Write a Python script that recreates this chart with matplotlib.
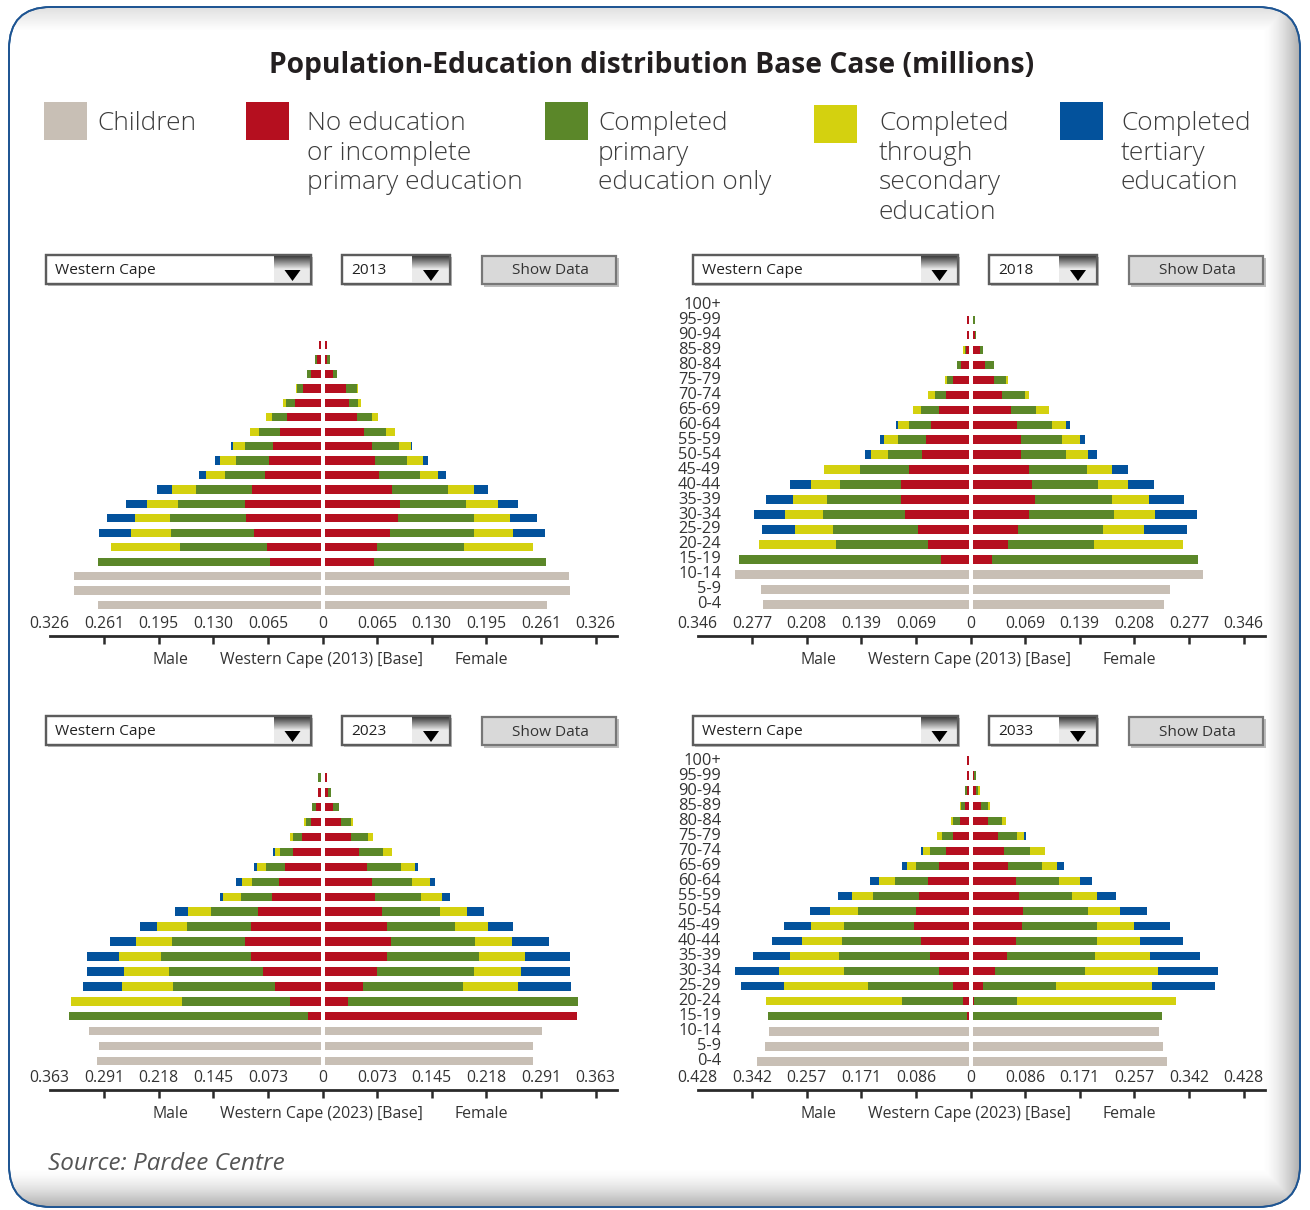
import numpy as np
import matplotlib
matplotlib.use("Agg")
import matplotlib.pyplot as plt
from matplotlib.patches import Rectangle, FancyBboxPatch, Polygon

# ---------------- data ----------------
age_groups = ["0-4", "5-9", "10-14", "15-19", "20-24", "25-29", "30-34", "35-39",
              "40-44", "45-49", "50-54", "55-59", "60-64", "65-69", "70-74",
              "75-79", "80-84", "85-89", "90-94", "95-99", "100+"]
categories = ["Children", "No education\nor incomplete\nprimary education",
              "Completed\nprimary\neducation only",
              "Completed\nthrough\nsecondary\neducation",
              "Completed\ntertiary\neducation"]
colors = ["#C8BFB5", "#B50F1F", "#5B8729", "#D4D10F", "#03529C"]

# children: ages 0-4, 5-9, 10-14 ; education lists: ages 15-19 ... 100+
# ---- 2013 ----
m2013_children = [0.266, 0.294, 0.294]
m2013_noedu = [0.060, 0.064, 0.079, 0.089, 0.090, 0.082, 0.066, 0.062, 0.057, 0.048, 0.040, 0.030, 0.021, 0.011, 0.004, 0.002, 0.0, 0.0]
m2013_prim = [0.206, 0.104, 0.100, 0.091, 0.080, 0.067, 0.048, 0.039, 0.033, 0.026, 0.018, 0.011, 0.007, 0.005, 0.002, 0.0, 0.0, 0.0]
m2013_sec = [0.0, 0.082, 0.047, 0.042, 0.037, 0.028, 0.023, 0.019, 0.014, 0.010, 0.007, 0.004, 0.001, 0.0, 0.0, 0.0, 0.0, 0.0]
m2013_ter = [0.0, 0.0, 0.038, 0.033, 0.025, 0.018, 0.008, 0.006, 0.003, 0.0, 0.0, 0.0, 0.0, 0.0, 0.0, 0.0, 0.0, 0.0]
f2013_children = [0.266, 0.293, 0.292]
f2013_noedu = [0.059, 0.063, 0.078, 0.088, 0.090, 0.081, 0.065, 0.060, 0.057, 0.047, 0.039, 0.029, 0.026, 0.010, 0.003, 0.003, 0.0, 0.0]
f2013_prim = [0.206, 0.104, 0.100, 0.091, 0.079, 0.067, 0.049, 0.039, 0.032, 0.027, 0.018, 0.011, 0.013, 0.005, 0.003, 0.0, 0.0, 0.0]
f2013_sec = [0.0, 0.082, 0.047, 0.042, 0.038, 0.030, 0.022, 0.019, 0.014, 0.010, 0.007, 0.004, 0.001, 0.0, 0.0, 0.0, 0.0, 0.0]
f2013_ter = [0.0, 0.0, 0.038, 0.033, 0.024, 0.017, 0.009, 0.006, 0.002, 0.0, 0.0, 0.0, 0.0, 0.0, 0.0, 0.0, 0.0, 0.0]
# ---- 2018 ----
m2018_children = [0.261, 0.263, 0.296]
m2018_noedu = [0.035, 0.051, 0.064, 0.081, 0.085, 0.085, 0.075, 0.059, 0.054, 0.048, 0.038, 0.029, 0.020, 0.009, 0.003, 0.002, 0.002, 0.0]
m2018_prim = [0.256, 0.117, 0.108, 0.104, 0.094, 0.078, 0.062, 0.043, 0.035, 0.028, 0.022, 0.014, 0.007, 0.006, 0.002, 0.0, 0.0, 0.0]
m2018_sec = [0.0, 0.097, 0.048, 0.047, 0.044, 0.037, 0.046, 0.022, 0.018, 0.013, 0.010, 0.008, 0.003, 0.0, 0.002, 0.0, 0.0, 0.0]
m2018_ter = [0.0, 0.0, 0.042, 0.040, 0.034, 0.026, 0.0, 0.007, 0.005, 0.003, 0.0, 0.0, 0.0, 0.0, 0.0, 0.0, 0.0, 0.0]
f2018_children = [0.243, 0.250, 0.292]
f2018_noedu = [0.025, 0.045, 0.058, 0.072, 0.079, 0.075, 0.072, 0.062, 0.061, 0.056, 0.049, 0.038, 0.027, 0.016, 0.009, 0.003, 0.001, 0.0]
f2018_prim = [0.261, 0.109, 0.107, 0.107, 0.098, 0.084, 0.073, 0.056, 0.052, 0.045, 0.032, 0.028, 0.016, 0.011, 0.004, 0.002, 0.002, 0.0]
f2018_sec = [0.0, 0.113, 0.052, 0.052, 0.047, 0.038, 0.032, 0.028, 0.023, 0.018, 0.016, 0.006, 0.002, 0.0, 0.0, 0.0, 0.0, 0.0]
f2018_ter = [0.0, 0.0, 0.055, 0.053, 0.044, 0.033, 0.020, 0.012, 0.006, 0.004, 0.0, 0.0, 0.0, 0.0, 0.0, 0.0, 0.0, 0.0]
# ---- 2023 ----
m2023_children = [0.297, 0.295, 0.308]
m2023_noedu = [0.017, 0.040, 0.061, 0.077, 0.093, 0.100, 0.092, 0.083, 0.064, 0.055, 0.047, 0.037, 0.024, 0.013, 0.006, 0.003, 0.0, 0.0]
m2023_prim = [0.317, 0.144, 0.135, 0.125, 0.119, 0.097, 0.085, 0.062, 0.042, 0.036, 0.026, 0.017, 0.012, 0.006, 0.005, 0.0, 0.003, 0.0]
m2023_sec = [0.0, 0.148, 0.068, 0.059, 0.056, 0.048, 0.040, 0.031, 0.023, 0.014, 0.012, 0.006, 0.004, 0.003, 0.0, 0.0, 0.0, 0.0]
m2023_ter = [0.0, 0.0, 0.052, 0.049, 0.042, 0.035, 0.023, 0.017, 0.005, 0.007, 0.004, 0.003, 0.0, 0.0, 0.0, 0.0, 0.0, 0.0]
f2023_children = [0.277, 0.277, 0.289]
f2023_noedu = [0.336, 0.031, 0.051, 0.070, 0.083, 0.089, 0.083, 0.077, 0.067, 0.063, 0.056, 0.046, 0.035, 0.022, 0.011, 0.005, 0.003, 0.0]
f2023_prim = [0.0, 0.306, 0.133, 0.129, 0.123, 0.111, 0.091, 0.077, 0.061, 0.053, 0.046, 0.032, 0.023, 0.013, 0.008, 0.004, 0.0, 0.0]
f2023_sec = [0.0, 0.0, 0.073, 0.062, 0.060, 0.049, 0.043, 0.035, 0.028, 0.024, 0.018, 0.012, 0.007, 0.003, 0.0, 0.0, 0.0, 0.0]
f2023_ter = [0.0, 0.0, 0.071, 0.066, 0.060, 0.049, 0.033, 0.023, 0.011, 0.007, 0.004, 0.0, 0.0, 0.0, 0.0, 0.0, 0.0, 0.0]
# ---- 2033 ----
m2033_children = [0.331, 0.319, 0.313]
m2033_noedu = [0.003, 0.008, 0.024, 0.046, 0.061, 0.075, 0.085, 0.082, 0.077, 0.064, 0.046, 0.036, 0.025, 0.014, 0.006, 0.003, 0.003, 0.003]
m2033_prim = [0.311, 0.096, 0.133, 0.149, 0.142, 0.124, 0.110, 0.092, 0.072, 0.052, 0.036, 0.024, 0.016, 0.010, 0.005, 0.003, 0.0, 0.0]
m2033_sec = [0.0, 0.213, 0.132, 0.102, 0.077, 0.062, 0.052, 0.043, 0.033, 0.025, 0.014, 0.012, 0.008, 0.004, 0.002, 0.0, 0.0, 0.0]
m2033_ter = [0.0, 0.0, 0.067, 0.069, 0.058, 0.047, 0.042, 0.031, 0.022, 0.014, 0.008, 0.003, 0.0, 0.0, 0.0, 0.0, 0.0, 0.0]
f2033_children = [0.305, 0.299, 0.292]
f2033_noedu = [0.0, 0.003, 0.016, 0.036, 0.054, 0.068, 0.077, 0.079, 0.073, 0.068, 0.055, 0.049, 0.040, 0.025, 0.013, 0.005, 0.003, 0.0]
f2033_prim = [0.297, 0.066, 0.115, 0.140, 0.138, 0.127, 0.118, 0.102, 0.083, 0.067, 0.054, 0.041, 0.029, 0.021, 0.012, 0.003, 0.003, 0.0]
f2033_sec = [0.0, 0.250, 0.150, 0.115, 0.086, 0.068, 0.058, 0.050, 0.039, 0.033, 0.023, 0.023, 0.011, 0.006, 0.003, 0.003, 0.0, 0.0]
f2033_ter = [0.0, 0.0, 0.099, 0.094, 0.079, 0.067, 0.057, 0.043, 0.030, 0.019, 0.011, 0.0, 0.004, 0.0, 0.0, 0.0, 0.0, 0.0]

tick_labels_2013 = ["0.326", "0.261", "0.195", "0.130", "0.065", "0", "0.065", "0.130", "0.195", "0.261", "0.326"]
tick_labels_2018 = ["0.346", "0.277", "0.208", "0.139", "0.069", "0", "0.069", "0.139", "0.208", "0.277", "0.346"]
tick_labels_2023 = ["0.363", "0.291", "0.218", "0.145", "0.073", "0", "0.073", "0.145", "0.218", "0.291", "0.363"]
tick_labels_2033 = ["0.428", "0.342", "0.257", "0.171", "0.086", "0", "0.086", "0.171", "0.257", "0.342", "0.428"]
axis_max = [0.326, 0.346, 0.363, 0.428]
years = ["2013", "2018", "2023", "2033"]
captions = ["Western Cape (2013) [Base]", "Western Cape (2013) [Base]",
            "Western Cape (2023) [Base]", "Western Cape (2023) [Base]"]
region = "Western Cape"
title = "Population-Education distribution Base Case (millions)"
source = "Source: Pardee Centre"

# ---------------- style ----------------
FONT = ["Open Sans", "DejaVu Sans"]
plt.rcParams["font.family"] = FONT
TXT = "#333333"
W, H = 1310, 1210
fig = plt.figure(figsize=(W / 100, H / 100), dpi=100)
fig.patch.set_facecolor("white")
renderer = fig.canvas.get_renderer()


def fit(txt, target_px, **kw):
    t = fig.text(0, 0, txt, fontsize=10, **kw)
    w = t.get_window_extent(renderer).width
    t.remove()
    return 10.0 * target_px / w


FS_TITLE = fit(title, 767, fontweight="bold")
FS_LEG = fit("primary education", 225)
FS_TICK = fit("0.326", 40)
FS_CAP = fit("Western Cape (2013) [Base]", 204)
FS_AGE = fit("95-99", 43)
FS_DD = fit("Western Cape", 100)
FS_BTN = fit("Show Data", 77)
FS_SRC = fit(source, 236, style="italic")

bg = fig.add_axes([0, 0, 1, 1], zorder=0)
bg.set_xlim(0, W)
bg.set_ylim(H, 0)
bg.axis("off")

# frame with rounded corners and inner shading
frame = FancyBboxPatch((9, 7), 1291, 1200, boxstyle="round,pad=0,rounding_size=42",
                       ec="#1E5593", fc="white", lw=1.3, zorder=1)
bg.add_patch(frame)
X, Y = np.meshgrid(np.arange(W), np.arange(H))
shade = np.maximum(np.clip((X - 1262) / 38.0, 0, 1) ** 1.6, np.clip((Y - 1168) / 39.0, 0, 1) ** 1.6)
shade = np.maximum(shade, 0.35 * np.clip((30 - Y) / 22.0, 0, 1))
rgba = np.zeros((H, W, 4))
rgba[..., :3] = 0.45
rgba[..., 3] = 0.6 * shade
im = bg.imshow(rgba, extent=(0, W, H, 0), zorder=2, interpolation="bilinear")
im.set_clip_path(frame)
frame2 = FancyBboxPatch((9, 7), 1291, 1200, boxstyle="round,pad=0,rounding_size=42",
                        ec="#1E5593", fc="none", lw=1.3, zorder=3)
bg.add_patch(frame2)

# title
bg.text(651.5, 72.5, title, ha="center", va="baseline", fontsize=FS_TITLE,
        fontweight="bold", color="#231F20", zorder=5)

# legend
leg_sq_x = [44, 246, 545, 814, 1060]
leg_tx_x = [97, 307, 598, 879, 1121]
for i, lab in enumerate(categories):
    bg.add_patch(Rectangle((leg_sq_x[i], 102 if i != 3 else 105), 43, 38, fc=colors[i], ec="none", zorder=5))
    for j, line in enumerate(lab.split("\n")):
        bg.text(leg_tx_x[i], 130 + 29.6 * j, line, ha="left", va="baseline", fontsize=FS_LEG,
                fontweight="light", color="#3c3c3c", zorder=5)

# source
bg.text(48, 1170, source, ha="left", va="baseline", fontsize=FS_SRC,
        style="italic", color="#555555", zorder=5)


def gradient_button(x0, x1, y0, y1):
    n = 40
    t = np.linspace(0, 1, n)
    c = np.clip(0.24 + 1.4 * t, 0, 0.92)
    arr = np.zeros((n, 2, 3))
    arr[..., :] = c[:, None, None]
    bg.imshow(arr, extent=(x0, x1, y1, y0), zorder=6, aspect="auto", interpolation="bilinear")
    cx = (x0 + x1) / 2
    bg.add_patch(Polygon([[cx - 8, y1 - 13], [cx + 8, y1 - 13], [cx, y1 - 2]], closed=True,
                         fc="black", ec="none", zorder=7))


def widgets(dx, y0, year):
    y1 = y0 + 29
    for (a, b, btn, txt) in [(46, 311, 274, region), (342, 450, 412, year)]:
        bg.add_patch(Rectangle((a + dx + 2, y0 + 2), b - a, y1 - y0, fc="#8a8a8a", ec="none", alpha=0.55, zorder=5))
        bg.add_patch(Rectangle((a + dx, y0), b - a, y1 - y0, fc="white", ec="#5c5c5c", lw=1.6, zorder=6))
        gradient_button(btn + dx, b + dx, y0 + 1, y1 - 1)
        bg.add_patch(Rectangle((a + dx, y0), b - a, y1 - y0, fc="none", ec="#5c5c5c", lw=1.6, zorder=8))
        bg.text(a + dx + 9, (y0 + y1) / 2 + 1, txt, ha="left", va="center", fontsize=FS_DD, color="#222222", zorder=8)
    bg.add_patch(Rectangle((484 + dx, y0 + 3), 135, y1 - y0, fc="#8a8a8a", ec="none", alpha=0.55, zorder=5))
    bg.add_patch(Rectangle((482 + dx, y0 + 1), 134, y1 - y0 - 1, fc="#d9d9d9", ec="#777777", lw=1.6, zorder=6))
    bg.text(550 + dx, (y0 + y1) / 2 + 1.5, "Show Data", ha="center", va="center", fontsize=FS_BTN, color="#333333", zorder=8)


# panels: (center_px, axis_y_px, row0_y_px, row_spacing_px, show_ages)
panel_layout = [(322.5, 636, 605.0, 14.44, False),
                (970.5, 636, 604.3, 14.96, True),
                (322.5, 1090, 1061.0, 14.93, False),
                (970.5, 1090, 1061.3, 15.03, True)]
widget_pos = [(0, 255), (647, 255), (0, 716), (647, 716)]
male_data = [
    (m2013_children, m2013_noedu, m2013_prim, m2013_sec, m2013_ter),
    (m2018_children, m2018_noedu, m2018_prim, m2018_sec, m2018_ter),
    (m2023_children, m2023_noedu, m2023_prim, m2023_sec, m2023_ter),
    (m2033_children, m2033_noedu, m2033_prim, m2033_sec, m2033_ter),
]
female_data = [
    (f2013_children, f2013_noedu, f2013_prim, f2013_sec, f2013_ter),
    (f2018_children, f2018_noedu, f2018_prim, f2018_sec, f2018_ter),
    (f2023_children, f2023_noedu, f2023_prim, f2023_sec, f2023_ter),
    (f2033_children, f2033_noedu, f2033_prim, f2033_sec, f2033_ter),
]
tick_label_sets = [tick_labels_2013, tick_labels_2018, tick_labels_2023, tick_labels_2033]

PT = 0.72  # points per pixel at dpi 100


def series_matrix(d):
    children, noedu, prim, sec, ter = d
    n = len(age_groups)
    mat = np.zeros((5, n))
    mat[0, :3] = children
    mat[1, 3:] = noedu
    mat[2, 3:] = prim
    mat[3, 3:] = sec
    mat[4, 3:] = ter
    return mat


for k in range(4):
    cx, ay, r0, sp, ages = panel_layout[k]
    maxv = axis_max[k]
    half = 273.0
    ppu = half / maxv
    left_px, right_px = cx - half, cx + half + 21
    top_px = r0 - 20.6 * sp
    ax = fig.add_axes([left_px / W, 1 - ay / H, (right_px - left_px) / W, (ay - top_px) / H], zorder=10)
    ax.patch.set_alpha(0)
    ax.set_xlim(-maxv, maxv + 21 / ppu)
    ax.set_ylim(-(ay - r0) / sp, 20.6)
    gap = 2.0 / ppu
    y = np.arange(len(age_groups))
    for side, data in ((-1, male_data[k]), (1, female_data[k])):
        mat = series_matrix(data)
        start = np.full(len(age_groups), gap)
        for c in range(5):
            ax.barh(y, side * mat[c], left=side * start, height=0.57, color=colors[c], lw=0)
            start = start + mat[c]
    for s in ("top", "left", "right"):
        ax.spines[s].set_visible(False)
    ax.spines["bottom"].set_linewidth(2.0)
    ax.spines["bottom"].set_color("#2a2a2a")
    ticks = np.linspace(-maxv, maxv, 11)
    ax.set_xticks(ticks)
    ax.tick_params(axis="x", direction="out", length=6, width=1.8, color="#2a2a2a", labelbottom=False)
    ax.xaxis.get_major_ticks()[0].tick1line.set_visible(False)
    ax.set_yticks([])
    for t, lab in zip(ticks, tick_label_sets[k]):
        ax.annotate(lab, xy=(t, 0), xycoords=("data", "axes fraction"), xytext=(0, 11.5 * PT),
                    textcoords="offset points", ha="center", va="center", fontsize=FS_TICK, color=TXT)
    for dxp, lab in ((-152, "Male"), (-1.5, captions[k]), (158.5, "Female")):
        ax.annotate(lab, xy=(0, 0), xycoords=("data", "axes fraction"), xytext=(dxp * PT, -24 * PT),
                    textcoords="offset points", ha="center", va="center", fontsize=FS_CAP, color=TXT)
    if ages:
        for i, lab in enumerate(age_groups):
            ax.annotate(lab, xy=(-maxv, i), xycoords="data", xytext=(23.5 * PT, 0),
                        textcoords="offset points", ha="right", va="center", fontsize=FS_AGE, color=TXT)
    wdx, wy = widget_pos[k]
    widgets(wdx, wy, years[k])

fig.savefig("out.png", dpi=100, facecolor="white")
